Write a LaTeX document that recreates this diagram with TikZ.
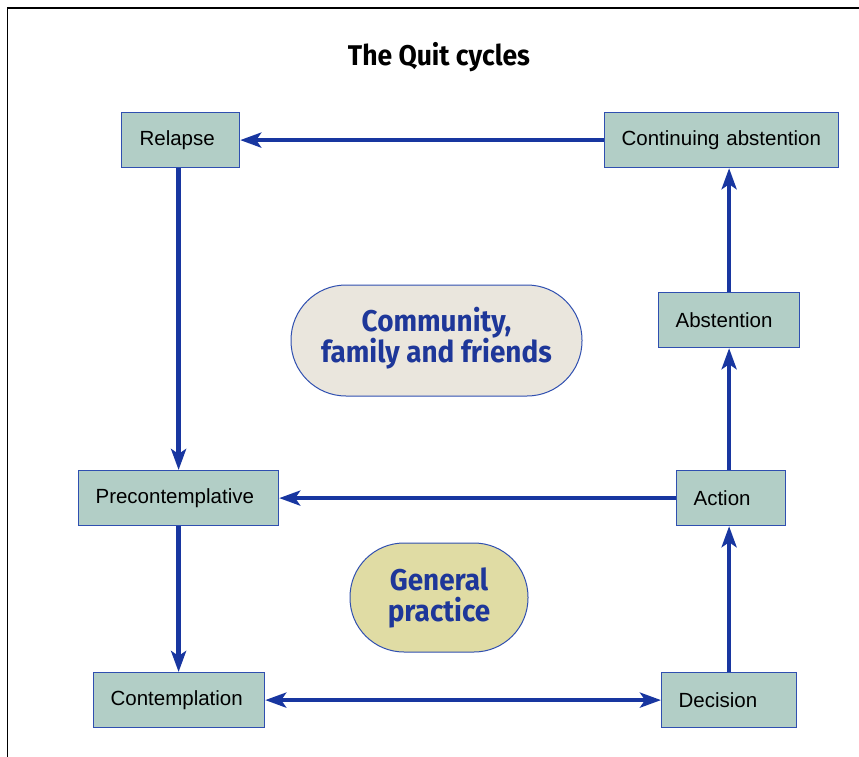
\documentclass[tikz,border=0pt]{standalone}
\usepackage{fontspec}
\setmainfont{Liberation Sans}
\newfontfamily\condfont[FakeStretch=0.93]{Fira Sans}
\usetikzlibrary{arrows.meta}
\definecolor{boxfill}{HTML}{B2CEC6}
\definecolor{boxline}{HTML}{2F4FB0}
\definecolor{arrowblue}{HTML}{1836A0}
\definecolor{commfill}{HTML}{EAE6DD}
\definecolor{gpfill}{HTML}{E0DCA4}
\definecolor{textblue}{HTML}{1E3799}
\tikzset{
  stagebox/.style={draw=boxline, line width=1.2pt, fill=boxfill, anchor=north west,
    minimum height=55pt, inner xsep=17pt, inner ysep=0pt, align=left,
    font=\fontsize{20.5}{24}\selectfont},
  stadium/.style={draw=boxline, line width=1pt, align=center, text=textblue,
    inner sep=0pt, font=\condfont\bfseries\fontsize{30}{31}\selectfont},
  arr/.style={line width=4.5pt, draw=arrowblue,
    -{Stealth[length=21pt,width=15pt,inset=5pt]}},
  dblarr/.style={line width=4.5pt, draw=arrowblue,
    {Stealth[length=21pt,width=15pt,inset=5pt]}-{Stealth[length=21pt,width=15pt,inset=5pt]}}
}
\begin{document}
\begin{tikzpicture}[x=1pt,y=-1pt]
\useasboundingbox (0,0) rectangle (859,757);
\draw[line width=1.5pt] (7.5,757) -- (7.5,8) -- (859,8);
\node[font=\condfont\bfseries\fontsize{28.5}{32}\selectfont] (title) at (439,57) {The Quit cycles};

\node[stagebox, inner xsep=18pt, text width=82pt] (relapse) at (121,112) {Relapse};
\node[stagebox, text width=200pt] (contabs) at (604,112) {Continuing abstention};
\node[stagebox, text width=107pt] (abst) at (658,292) {Abstention};
\node[stagebox, text width=75pt] (action) at (676,470) {Action};
\node[stagebox, text width=166pt] (precon) at (78,470) {Precontemplative};
\node[stagebox, text width=137pt] (contemp) at (93,672) {Contemplation};
\node[stagebox, text width=101pt] (decision) at (661,672) {Decision};

\node[stadium, fill=commfill, minimum width=291pt, minimum height=111pt, rounded corners=55pt, text depth=12pt] (community) at (436.5,340.5) {Community,\\family and friends};
\node[stadium, fill=gpfill, minimum width=178pt, minimum height=109pt, rounded corners=54pt] (gp) at (439,597.5) {General\\practice};

\draw[arr] (contabs.west) -- (relapse.east);
\draw[arr] (precon.north |- relapse.south) -- (precon.north);
\draw[arr] (action.west) -- (precon.east);
\draw[arr] (precon.south) -- (precon.south |- contemp.north);
\draw[dblarr] (contemp.east) -- (decision.west);
\draw[arr] (decision.north) -- (decision.north |- action.south);
\draw[arr] (abst.south |- action.north) -- (abst.south);
\draw[arr] (abst.north) -- (abst.north |- contabs.south);
\end{tikzpicture}
\end{document}
